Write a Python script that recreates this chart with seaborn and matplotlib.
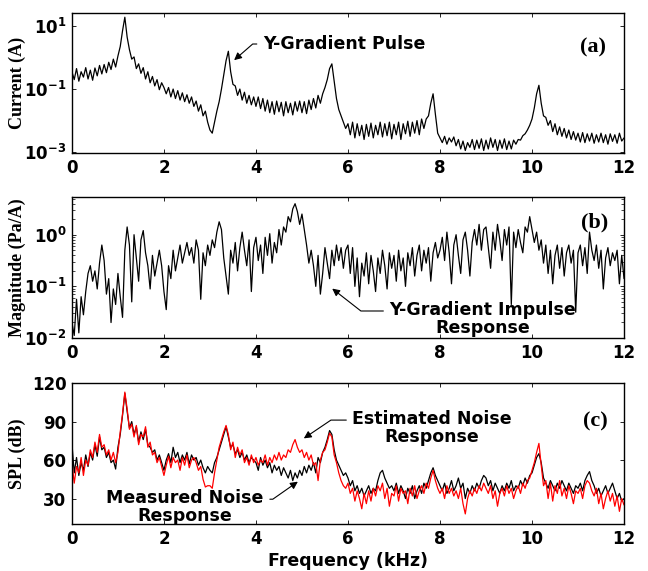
import numpy as np
import pandas as pd
import seaborn as sns
import matplotlib.pyplot as plt

# frequency grid (kHz), one sample every 0.05 kHz
freq = np.round(np.arange(241) * 0.05, 2)

# (a) gradient pulse current, log10(A)
current_log10 = [
    -0.45, -0.70, -0.35, -0.75, -0.45, -0.62, -0.32, -0.68, -0.40, -0.72, -0.33, -0.58, -0.25, -0.52, -0.22, -0.48, -0.15, -0.38, -0.05, -0.30,
    0.05, 0.35, 0.85, 1.28, 0.65, 0.25, -0.05, 0.02, -0.35, -0.20, -0.50, -0.32, -0.68, -0.45, -0.80, -0.60, -0.90, -0.70, -1.02, -0.80,
    -0.95, -1.15, -0.95, -1.25, -1.00, -1.30, -1.05, -1.35, -1.12, -1.40, -1.18, -1.45, -1.25, -1.55, -1.38, -1.70, -1.50, -1.85, -1.70, -2.05,
    -2.30, -2.40, -2.05, -1.70, -1.40, -1.00, -0.55, -0.10, 0.20, -0.45, -0.85, -0.90, -1.20, -1.00, -1.35, -1.10, -1.45, -1.20, -1.50, -1.25,
    -1.55, -1.25, -1.62, -1.30, -1.70, -1.35, -1.75, -1.40, -1.80, -1.38, -1.72, -1.42, -1.85, -1.40, -1.75, -1.45, -1.82, -1.40, -1.70, -1.38,
    -1.75, -1.40, -1.78, -1.35, -1.65, -1.30, -1.60, -1.20, -1.45, -1.15, -0.95, -0.70, -0.35, -0.20, -0.75, -1.30, -1.65, -1.85, -2.05, -2.25,
    -2.10, -2.45, -2.05, -2.55, -2.10, -2.48, -2.15, -2.60, -2.12, -2.50, -2.08, -2.55, -2.15, -2.45, -2.05, -2.52, -2.10, -2.48, -2.05, -2.58,
    -2.12, -2.45, -2.05, -2.60, -2.10, -2.42, -2.02, -2.50, -2.05, -2.40, -2.00, -2.45, -1.95, -2.25, -1.95, -1.85, -1.45, -1.15, -1.80, -2.40,
    -2.55, -2.70, -2.50, -2.75, -2.55, -2.68, -2.52, -2.80, -2.60, -2.90, -2.65, -2.95, -2.70, -2.85, -2.60, -2.92, -2.62, -2.88, -2.58, -2.95,
    -2.62, -2.90, -2.55, -2.85, -2.60, -2.95, -2.62, -2.88, -2.58, -2.92, -2.65, -2.90, -2.62, -2.75, -2.60, -2.62, -2.48, -2.42, -2.30, -2.15,
    -1.95, -1.60, -1.15, -0.88, -1.45, -1.85, -1.90, -2.15, -2.00, -2.35, -2.10, -2.45, -2.20, -2.50, -2.25, -2.55, -2.30, -2.60, -2.35, -2.62,
    -2.40, -2.68, -2.38, -2.70, -2.42, -2.65, -2.40, -2.72, -2.45, -2.68, -2.40, -2.70, -2.45, -2.75, -2.42, -2.66, -2.45, -2.72, -2.40, -2.65,
    -2.55,
]

# (b) impulse response magnitude, log10(Pa/A)
magnitude_log10 = [
    -1.70, -1.95, -1.25, -1.90, -1.20, -1.55, -1.10, -0.75, -0.60, -0.90, -0.70, -1.05, -0.55, -0.20, -0.50, -1.15, -0.85, -1.70, -1.05, -1.35,
    -0.75, -1.20, -1.60, -0.30, 0.15, -0.20, -1.30, 0.00, -0.45, -0.90, -0.10, 0.08, -0.35, -0.60, -1.05, -0.40, -0.80, -0.55, -0.30, -0.60,
    -1.10, -1.45, -0.60, -0.85, -0.30, -0.70, -0.45, -0.20, -0.55, -0.35, -0.15, -0.40, -0.25, -0.55, -0.10, -0.30, -1.25, -0.35, -0.60, -0.20,
    -0.40, -0.10, -0.25, 0.05, 0.25, 0.10, -0.45, -0.80, -1.15, -0.30, -0.55, -0.15, -0.70, -0.25, 0.05, -0.30, -0.60, -0.10, -1.10, -0.25,
    -0.05, -0.50, -0.20, -0.75, -0.05, -0.40, 0.02, -0.55, -0.15, -0.35, 0.10, -0.20, 0.15, 0.05, 0.35, 0.25, 0.50, 0.60, 0.45, 0.20,
    0.40, 0.10, -0.20, -0.55, -0.30, -0.60, -1.00, -0.40, -1.15, -0.75, -0.25, -0.55, -0.85, -0.30, -0.60, -0.20, -0.50, -0.25, -0.65, -0.30,
    -0.20, -0.75, -0.25, -1.00, -0.45, -1.20, -0.55, -0.80, -0.35, -0.95, -0.40, -0.70, -1.10, -0.45, -0.75, -0.30, -0.60, -1.05, -0.35, -0.65,
    -0.40, -0.90, -0.30, -0.70, -0.45, -1.00, -0.35, -0.60, -0.25, -0.80, -0.40, -0.20, -0.70, -0.30, -0.55, -0.25, -0.90, -0.35, -0.15, -0.45,
    -0.30, -0.05, -0.50, 0.05, -0.35, -0.95, -0.20, 0.00, -0.40, -0.75, -0.10, 0.05, -0.30, -0.80, -0.15, 0.10, -0.20, 0.20, -0.30, 0.10,
    0.15, -0.25, -0.65, 0.05, -0.30, 0.20, -0.10, -0.50, 0.10, -0.20, 0.15, -1.35, 0.05, -0.25, 0.10, -0.15, -0.35, 0.15, 0.05, 0.35,
    0.10, -0.15, 0.05, -0.30, -0.10, -0.55, -0.20, -0.75, -0.30, -0.95, -0.40, -0.20, -0.65, -0.25, -0.80, -0.35, -0.20, -0.55, -0.30, -1.50,
    -0.35, -0.20, -0.60, -0.25, -0.75, 0.05, -0.30, -0.50, -0.20, -0.65, -0.30, -1.05, -0.45, -0.25, -0.60, -0.35, -0.50, -0.30, -0.95, -0.40,
    -0.85,
]

# (c) sound pressure level, dB
spl_measured = [
    73, 50, 62, 48, 58, 52, 64, 55, 66, 60, 72, 63, 78, 68, 70, 62, 66, 58, 60, 53,
    70, 80, 95, 112, 98, 85, 90, 80, 86, 74, 82, 76, 84, 72, 70, 66, 68, 60, 64, 58,
    52, 60, 65, 58, 70, 62, 66, 58, 64, 60, 66, 57, 64, 60, 62, 56, 60, 54, 50, 55,
    52, 50, 58, 62, 68, 74, 80, 86, 78, 70, 72, 65, 68, 62, 66, 60, 64, 58, 62, 60,
    58, 52, 62, 56, 60, 54, 58, 50, 56, 52, 55, 48, 54, 50, 46, 52, 44, 50, 46, 52,
    48, 55, 50, 56, 52, 58, 50, 62, 58, 66, 70, 76, 83, 80, 68, 60, 56, 52, 48, 50,
    46, 40, 44, 36, 40, 34, 38, 32, 36, 40, 34, 38, 36, 44, 50, 52, 46, 42, 38, 40,
    36, 42, 34, 40, 36, 30, 38, 34, 40, 30, 36, 40, 34, 42, 38, 44, 50, 54, 48, 44,
    40, 36, 42, 34, 38, 44, 36, 40, 46, 38, 42, 30, 38, 34, 40, 36, 42, 38, 44, 48,
    46, 40, 44, 36, 42, 38, 34, 40, 36, 42, 38, 44, 36, 40, 38, 44, 40, 46, 42, 48,
    50, 56, 62, 65, 58, 46, 42, 38, 44, 40, 36, 42, 38, 44, 40, 36, 42, 38, 34, 40,
    38, 42, 36, 44, 48, 51, 44, 40, 34, 38, 32, 36, 40, 34, 38, 42, 36, 30, 34, 28,
    30,
]
spl_estimated = [
    58, 42, 55, 50, 62, 48, 60, 56, 68, 62, 74, 66, 80, 70, 72, 64, 68, 60, 66, 58,
    66, 82, 96, 113, 100, 84, 88, 78, 87, 72, 80, 78, 86, 70, 74, 64, 66, 58, 62, 55,
    48, 56, 63, 54, 62, 58, 60, 52, 62, 56, 64, 54, 60, 62, 58, 52, 55, 45, 39, 40,
    40, 38, 50, 60, 70, 76, 82, 87, 80, 68, 74, 62, 70, 64, 68, 58, 62, 56, 64, 58,
    62, 56, 60, 58, 64, 56, 62, 58, 64, 60, 66, 60, 64, 62, 68, 66, 72, 76, 70, 66,
    68, 62, 66, 60, 64, 56, 58, 44, 60, 66, 68, 74, 81, 78, 64, 58, 50, 44, 40, 38,
    42, 34, 38, 28, 36, 30, 22, 34, 26, 36, 28, 38, 32, 40, 36, 42, 30, 38, 24, 34,
    32, 40, 28, 38, 34, 36, 26, 38, 32, 40, 30, 36, 40, 34, 42, 38, 46, 52, 44, 38,
    34, 38, 30, 40, 34, 38, 32, 36, 30, 38, 26, 18, 30, 36, 32, 38, 34, 40, 36, 42,
    38, 34, 40, 30, 36, 24, 34, 38, 32, 40, 34, 38, 30, 36, 40, 34, 42, 38, 44, 46,
    52, 58, 66, 73, 56, 40, 44, 30, 42, 28, 40, 34, 44, 32, 38, 30, 40, 34, 26, 36,
    34, 38, 30, 40, 44, 42, 36, 32, 38, 26, 34, 22, 30, 36, 28, 34, 24, 32, 20, 30,
    25,
]

df = pd.DataFrame({
    "freq": freq,
    "current": 10.0 ** np.array(current_log10),
    "magnitude": 10.0 ** np.array(magnitude_log10),
    "measured": spl_measured,
    "estimated": spl_estimated,
})

sns.set_style("ticks")
plt.rcParams["font.family"] = ["DejaVu Sans"]
plt.rcParams["mathtext.fontset"] = "custom"
plt.rcParams["mathtext.rm"] = "DejaVu Sans:bold"
plt.rcParams["mathtext.it"] = "DejaVu Sans:bold"
plt.rcParams["mathtext.bf"] = "DejaVu Sans:bold"
for key in ("text.color", "axes.labelcolor", "xtick.color", "ytick.color", "axes.edgecolor"):
    plt.rcParams[key] = "black"

fig = plt.figure(figsize=(6.48, 5.71), dpi=100)
ax_a = fig.add_axes([0.111, 0.732, 0.852, 0.245])
ax_b = fig.add_axes([0.111, 0.408, 0.852, 0.247])
ax_c = fig.add_axes([0.111, 0.082, 0.852, 0.247])

sns.lineplot(data=df, x="freq", y="current", ax=ax_a, color="black", lw=0.9)
sns.lineplot(data=df, x="freq", y="magnitude", ax=ax_b, color="black", lw=0.9)
sns.lineplot(data=df, x="freq", y="measured", ax=ax_c, color="black", lw=0.9)
sns.lineplot(data=df, x="freq", y="estimated", ax=ax_c, color="#ff0000", lw=0.9)

serif = dict(family="Liberation Serif", weight="bold", size=13)
sans = dict(family="DejaVu Sans", weight="bold", size=12.5)

for ax in (ax_a, ax_b, ax_c):
    ax.set_xlim(0, 12)
    ax.set_xticks(range(0, 13, 2))
    ax.tick_params(direction="in", top=True, right=True, length=3, width=0.6,
                   labelsize=12, pad=4, colors="black")
    for lab in ax.get_xticklabels() + ax.get_yticklabels():
        lab.set_fontweight("bold")
    for sp in ax.spines.values():
        sp.set_visible(True)
        sp.set_linewidth(1.0)
        sp.set_color("black")
    ax.set_xlabel("")
    ax.yaxis.set_label_coords(-0.083, 0.5)

ax_a.set_yscale("log")
ax_a.set_ylim(10 ** -3.03, 10 ** 1.41)
ax_a.set_yticks([1e-3, 1e-1, 1e1])
ax_a.set_yticklabels([r"$10^{-3}$", r"$10^{-1}$", r"$10^{1}$"])
ax_a.minorticks_off()
ax_a.set_ylabel("Current (A)", **serif)

ax_b.set_yscale("log")
ax_b.set_ylim(10 ** -2, 10 ** 0.73)
ax_b.set_yticks([1e-2, 1e-1, 1e0])
ax_b.set_yticklabels([r"$10^{-2}$", r"$10^{-1}$", r"$10^{0}$"])
ax_b.tick_params(axis="y", which="minor", direction="in", right=True, length=2, width=0.5)
ax_b.set_ylabel("Magnitude (Pa/A)", **serif)

ax_c.set_ylim(10, 120)
ax_c.set_yticks([30, 60, 90, 120])
ax_c.set_ylabel("SPL (dB)", **serif)
ax_c.set_xlabel("Frequency (kHz)", **sans, labelpad=3)

panel_font = dict(family="Liberation Serif", weight="bold", size=16)
ax_a.text(0.944, 0.757, "(a)", transform=ax_a.transAxes, ha="center", va="center", **panel_font)
ax_b.text(0.947, 0.82, "(b)", transform=ax_b.transAxes, ha="center", va="center", **panel_font)
ax_c.text(0.949, 0.73, "(c)", transform=ax_c.transAxes, ha="center", va="center", **panel_font)

arrow = dict(arrowstyle="-|>", color="black", lw=0.8, mutation_scale=11)

ax_a.annotate("Y-Gradient Pulse", xy=(3.48, 10 ** -0.14), xytext=(4.15, 10 ** 0.43),
              ha="left", va="center", **sans,
              arrowprops=dict(arrow, relpos=(0, 0.5),
                              connectionstyle="angle,angleA=0,angleB=41,rad=0"))

ax_b.annotate("Y-Gradient Impulse\nResponse", xy=(5.61, 10 ** -1.01), xytext=(8.93, 10 ** -1.63),
              ha="center", va="center", multialignment="center", linespacing=1.0, **sans,
              arrowprops=dict(arrow, relpos=(0, 0.72),
                              connectionstyle="angle,angleA=0,angleB=-38,rad=0"))

ax_c.annotate("Estimated Noise\nResponse", xy=(4.99, 75.7), xytext=(7.83, 85),
              ha="center", va="center", multialignment="center", linespacing=1.0, **sans,
              arrowprops=dict(arrow, relpos=(0, 0.72),
                              connectionstyle="angle,angleA=0,angleB=34,rad=0"))

ax_c.annotate("Measured Noise\nResponse", xy=(4.96, 44.4), xytext=(2.46, 23.3),
              ha="center", va="center", multialignment="center", linespacing=1.0, **sans,
              arrowprops=dict(arrow, relpos=(1, 0.72),
                              connectionstyle="angle,angleA=0,angleB=35,rad=0"))

fig.savefig("out.png", dpi=100)
